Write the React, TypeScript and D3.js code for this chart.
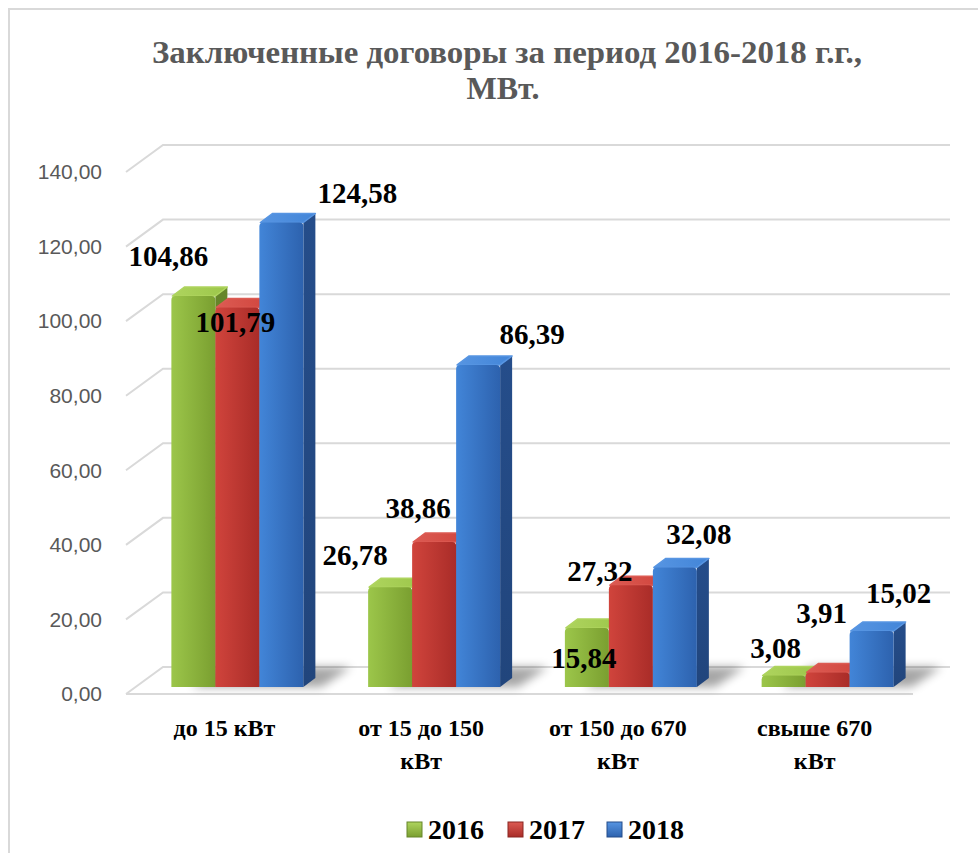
import React from "react";
import * as d3 from "d3";

const categories = ["до 15 кВт", "от 15 до 150 кВт", "от 150 до 670 кВт", "свыше 670 кВт"];
const seriesNames = ["2016", "2017", "2018"];
const values2016 = [104.86, 26.78, 15.84, 3.08];
const values2017 = [101.79, 38.86, 27.32, 3.91];
const values2018 = [124.58, 86.39, 32.08, 15.02];
const yTicks = [0, 20, 40, 60, 80, 100, 120, 140];
// Excel's data-label placement relative to each bar top (dx, dy)
const labelOffsets2016 = [[-25, -30], [-35, -22], [-3, 40], [-8, -18]];
const labelOffsets2017 = [[-2, 25], [-16, -24], [-31, -4], [-6, -49]];
const labelOffsets2018 = [[76, -19], [54, -21], [24, -23], [27, -28]];

const palette = [
  { front0: "#9cc64a", front1: "#7a9f30", top: "#aed45e", side: "#66862a", name: "g" },
  { front0: "#d0443c", front1: "#a92c28", top: "#dc5b53", side: "#8a2622", name: "r" },
  { front0: "#4285d8", front1: "#2d62ae", top: "#5795e2", side: "#254d8a", name: "b" },
];

export default function App() {
  const series = [values2016, values2017, values2018];
  const offsets = [labelOffsets2016, labelOffsets2017, labelOffsets2018];

  const frontLeft = 126, frontRight = 913;
  const depthX = 37, depthY = -27;
  const y = d3.scaleLinear().domain([0, 140]).range([694, 172]);
  const x = d3.scaleBand<string>().domain(categories).range([frontLeft, frontRight]).padding(0);

  const barDepthY = -7; // bars sit inside the floor
  const barW = 44;
  const topDx = 12, topDy = -9;
  const fmt = (v: number) => d3.format(".2f")(v).replace(".", ",");

  const serif = "'Liberation Serif', 'Times New Roman', serif";
  const sans = "'Liberation Sans', Arial, sans-serif";

  const bars: React.ReactNode[] = [];
  const shadows: React.ReactNode[] = [];
  const labels: React.ReactNode[] = [];

  categories.forEach((c, i) => {
    const center = (x(c) as number) + x.bandwidth() / 2 + 13;
    const start = center - (barW * 3) / 2;
    const yb = y(0) + barDepthY;
    shadows.push(
      <polygon key={"sh" + i}
        points={`${start + 20},${yb} ${start + barW * 3 + 18},${yb} ${start + barW * 3 + 48},${yb - 20} ${start + 50},${yb - 20}`}
        fill="#000" opacity={0.35} filter="url(#blur)" />
    );
    series.forEach((vals, j) => {
      const v = vals[i];
      const x0 = start + j * barW;
      const x1 = x0 + barW;
      const yt = y(v) + barDepthY;
      const p = palette[j];
      const r = 4;
      bars.push(
        <g key={`b${i}-${j}`}>
          <polygon points={`${x1},${yt} ${x1 + topDx},${yt + topDy} ${x1 + topDx},${yb + topDy} ${x1},${yb}`}
            fill={`url(#side${p.name})`} />
          <polygon points={`${x0 + 1},${yt} ${x0 + topDx + 1},${yt + topDy} ${x1 + topDx},${yt + topDy} ${x1},${yt}`}
            fill={`url(#top${p.name})`} strokeLinejoin="round" stroke={p.top} strokeWidth={1.5} />
          <path d={`M${x0},${yb} L${x0},${yt + r} Q${x0},${yt} ${x0 + r},${yt} L${x1 - r},${yt} Q${x1},${yt} ${x1},${yt + r} L${x1},${yb} Z`}
            fill={`url(#front${p.name})`} />
        </g>
      );
      const [odx, ody] = offsets[j][i];
      labels.push(
        <text key={`l${i}-${j}`} x={x0 + barW / 2 + odx} y={yt + ody} textAnchor="middle"
          fontFamily={serif} fontWeight="bold" fontSize={29} fill="#000">{fmt(v)}</text>
      );
    });
  });

  const wrap = (s: string) => {
    if (s.length <= 10) return [s];
    const parts = s.split(" ");
    return [parts.slice(0, -1).join(" "), parts[parts.length - 1]];
  };

  const legendX = [407, 508, 607];

  return (
    <svg width={978} height={853} style={{ position: "absolute", left: 0, top: 0, background: "#fff" }}>
      <defs>
        <filter id="blur" x="-50%" y="-50%" width="200%" height="200%">
          <feGaussianBlur stdDeviation={5} />
        </filter>
        {palette.map((p) => (
          <React.Fragment key={p.name}>
            <linearGradient id={"front" + p.name} x1="0" x2="1" y1="0" y2="0">
              <stop offset="0" stopColor={p.front0} />
              <stop offset="1" stopColor={p.front1} />
            </linearGradient>
            <linearGradient id={"top" + p.name} x1="0" x2="1" y1="0" y2="0">
              <stop offset="0" stopColor={p.top} />
              <stop offset="1" stopColor={p.front0} />
            </linearGradient>
            <linearGradient id={"side" + p.name} x1="0" x2="0" y1="0" y2="1">
              <stop offset="0" stopColor={p.side} />
              <stop offset="1" stopColor={d3.color(p.side)!.darker(0.3).toString()} />
            </linearGradient>
            <linearGradient id={"leg" + p.name} x1="0" x2="0" y1="0" y2="1">
              <stop offset="0" stopColor={p.top} />
              <stop offset="1" stopColor={p.front1} />
            </linearGradient>
          </React.Fragment>
        ))}
      </defs>

      <rect x={9} y={9} width={1100} height={1000} fill="#fff" stroke="#d9d9d9" strokeWidth={2} />

      <text x={507} y={63} textAnchor="middle" fontFamily={serif} fontWeight="bold" fontSize={32} fill="#595959"
        textLength={710} lengthAdjust="spacingAndGlyphs">
        Заключенные договоры за период 2016-2018 г.г.,
      </text>
      <text x={503} y={99} textAnchor="middle" fontFamily={serif} fontWeight="bold" fontSize={32} fill="#595959">
        МВт.
      </text>

      {/* gridlines */}
      {yTicks.map((t) => (
        <g key={"g" + t}>
          <polyline points={`${frontLeft},${y(t)} ${frontLeft + depthX},${y(t) + depthY} ${frontRight + depthX},${y(t) + depthY}`}
            fill="none" stroke="#d9d9d9" strokeWidth={2} />
          <text x={102} y={y(t)} dy="0.35em" textAnchor="end" fontFamily={sans} fontSize={21} fill="#595959">
            {fmt(t)}
          </text>
        </g>
      ))}
      <line x1={frontLeft} x2={frontRight} y1={y(0)} y2={y(0)} stroke="#d9d9d9" strokeWidth={2} />

      {shadows}
      {bars}
      {labels}

      {categories.map((c) => {
        const cx = (x(c) as number) + x.bandwidth() / 2;
        return wrap(c).map((ln, k) => (
          <text key={c + k} x={cx} y={736 + k * 33} textAnchor="middle" fontFamily={serif} fontWeight="bold" fontSize={24} fill="#000">
            {ln}
          </text>
        ));
      })}

      {seriesNames.map((s, j) => (
        <g key={s}>
          <rect x={legendX[j]} y={822} width={15} height={15} fill={`url(#leg${palette[j].name})`} stroke={palette[j].side} strokeWidth={1} />
          <text x={legendX[j] + 21} y={839} fontFamily={serif} fontWeight="bold" fontSize={28} fill="#000">{s}</text>
        </g>
      ))}
    </svg>
  );
}
